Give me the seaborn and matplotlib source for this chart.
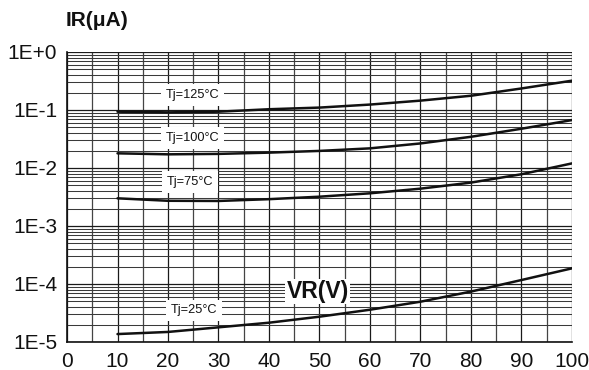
import numpy as np
import pandas as pd
import matplotlib
matplotlib.use("Agg")
import matplotlib.pyplot as plt
import seaborn as sns
from matplotlib.ticker import LogLocator, FuncFormatter, MultipleLocator

# reverse voltage (V)
VR = [10, 20, 30, 40, 50, 60, 70, 80, 90, 100]

# reverse current IR (uA) per junction temperature
IR_125 = [0.0935, 0.091, 0.0935, 0.103, 0.110, 0.124, 0.145, 0.176, 0.235, 0.320]
IR_100 = [0.0179, 0.0172, 0.0175, 0.0184, 0.0197, 0.0218, 0.0265, 0.0345, 0.0475, 0.0670]
IR_75 = [0.0030, 0.00272, 0.0027, 0.0029, 0.0032, 0.00366, 0.0044, 0.0056, 0.0078, 0.0120]
IR_25 = [1.37e-5, 1.49e-5, 1.79e-5, 2.15e-5, 2.73e-5, 3.6e-5, 4.95e-5, 7.4e-5, 1.17e-4, 1.86e-4]

CURVES = {"Tj=125°C": IR_125, "Tj=100°C": IR_100, "Tj=75°C": IR_75, "Tj=25°C": IR_25}
LABEL_POS = {"Tj=125°C": (24.9, 0.18), "Tj=100°C": (24.9, 0.033),
             "Tj=75°C": (24.3, 0.0058), "Tj=25°C": (25.2, 3.5e-5)}

Y_TICKS = [1e-5, 1e-4, 1e-3, 1e-2, 1e-1, 1e0]
Y_LABELS = ["1E-5", "1E-4", "1E-3", "1E-2", "1E-1", "1E+0"]
X_TICKS = [0, 10, 20, 30, 40, 50, 60, 70, 80, 90, 100]

df = pd.concat([pd.DataFrame({"VR": VR, "IR": v, "Tj": k}) for k, v in CURVES.items()],
               ignore_index=True)

sns.set_theme(style="white")
plt.rcParams["font.family"] = ["Liberation Sans", "DejaVu Sans"]

fig = plt.figure(figsize=(5.89, 3.70), dpi=100)
ax = fig.add_axes([0.1138, 0.0757, 0.971 - 0.1138, 0.8595 - 0.0757])

ax.set_yscale("log")
ax.set_xlim(0, 100)
ax.set_ylim(1e-5, 1)

# grid: every 5 V, log minor lines
ax.xaxis.set_major_locator(MultipleLocator(10))
ax.xaxis.set_minor_locator(MultipleLocator(5))
ax.yaxis.set_major_locator(LogLocator(base=10, numticks=10))
ax.yaxis.set_minor_locator(LogLocator(base=10, subs=np.arange(2, 10), numticks=10))
ax.grid(which="major", axis="both", color="#1a1a1a", lw=0.9)
ax.grid(which="minor", axis="x", color="#444444", lw=0.9)
ax.grid(which="minor", axis="y", color="#3a3a3a", lw=0.75)

sns.lineplot(data=df, x="VR", y="IR", hue="Tj", palette=["#111111"] * 4,
             lw=1.8, legend=False, ax=ax, zorder=3)

for name, (x, y) in LABEL_POS.items():
    ax.text(x, y, name, fontsize=9.2, ha="center", va="center", color="#111",
            bbox=dict(facecolor="white", edgecolor="none", pad=3.5), zorder=4)

ax.text(49.7, 7.4e-5, "VR(V)", fontsize=16.5, fontweight="bold", ha="center", va="center",
        color="#111", bbox=dict(facecolor="white", edgecolor="none", pad=1.0), zorder=4)

ax.set_yticks(Y_TICKS)
ax.yaxis.set_major_formatter(FuncFormatter(lambda v, p: Y_LABELS[Y_TICKS.index(v)]
                                           if v in Y_TICKS else ""))
ax.set_xticks(X_TICKS)
ax.set_xticklabels([str(t) for t in X_TICKS])
ax.tick_params(axis="both", which="both", length=0, labelsize=15, colors="#111")
ax.tick_params(axis="x", pad=7)
ax.tick_params(axis="y", pad=7)
ax.set_xlabel("")
ax.set_ylabel("")

for side in ["top", "right"]:
    ax.spines[side].set_visible(False)
for side in ["left", "bottom"]:
    ax.spines[side].set_color("#111")
    ax.spines[side].set_linewidth(1.2)

fig.text(0.112, 0.945, "IR(μA)", fontsize=15, fontweight="bold", ha="left", va="center",
         color="#111")

fig.savefig("out.png", dpi=100, facecolor="white")
